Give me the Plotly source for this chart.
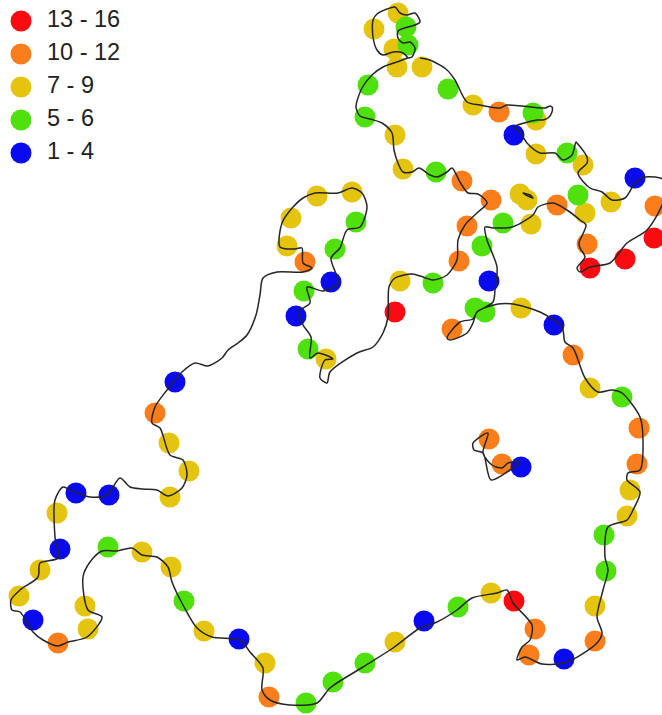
import plotly.graph_objects as go

coast_x = [408,403,393,383,377,373,373,377,387,395,400,407,415,420,415,398,398,403,410,415,412,408,397,383,372,362,356,360,370,382,392,394,398,403,412,419,430,437,447,452,460,468,478,487,477,465,458,457,447,433,423,412,395,389,388,383,373,357,330,327,320,325,333,318,310,311,303,298,310,307,323,338,331,340,347,360,367,362,352,338,315,303,293,282,280,295,302,303,312,303,277,263,260,256,247,238,228,222,208,195,182,167,155,152,160,170,183,187,182,168,157,143,130,120,107,90,72,63,55,55,58,40,38,20,11,12,20,33,43,58,68,87,102,88,83,90,102,117,132,142,157,168,172,183,197,212,240,250,263,262,270,290,317,330,363,393,420,437,457,472,497,507,513,532,530,522,517,525,542,567,597,602,597,603,608,605,608,627,633,640,627,628,640,643,640,622,612,598,585,573,565,562,540,513,498,477,473,467,450,447,460,473,477,493,495,497,487,485,493,512,533,538,553,567,580,586,579,580,585,577,580,590,610,627,647,664,664,645,635,625,612,602,590,578,587,587,577,576,572,563,555,540,527,520,514,537,543,548,552,552,550,545,507,500,480,467,455,447,430,420,408]
coast_y = [58,53,52,55,50,37,20,14,9,7,13,15,13,22,25,31,38,43,42,48,57,58,62,67,75,88,107,116,119,123,133,150,163,172,172,168,175,177,172,168,182,193,194,203,213,225,240,260,275,280,277,274,278,287,317,333,347,353,372,383,378,360,359,353,358,337,325,312,303,287,291,283,258,248,230,227,207,193,188,193,193,198,207,223,247,249,248,263,268,272,272,278,295,315,335,343,350,358,366,363,372,390,407,423,428,455,460,475,488,496,490,489,487,478,495,497,491,487,500,537,558,563,577,590,600,610,612,632,640,646,642,637,617,610,577,562,551,551,548,555,557,567,582,605,628,637,640,652,668,690,700,705,703,688,667,648,628,622,610,598,593,590,603,625,640,647,660,657,664,662,643,633,617,590,570,557,527,520,510,492,480,473,470,440,417,393,390,392,378,348,342,327,312,304,304,312,323,333,340,338,322,319,312,302,290,267,240,227,228,227,215,207,203,210,220,225,243,248,257,268,272,267,263,243,230,200,180,177,183,198,200,192,188,173,163,157,143,142,155,160,153,153,143,132,127,120,120,118,112,107,106,108,105,108,105,102,80,70,60,58]
island_x = [488,473,474,483,491,510,520,508,502,492,483,488]
island_y = [433,443,450,453,480,470,462,463,468,465,453,433]
loop_x = [523,530,533,528,523]
loop_y = [193,195,198,196,193]

class_names = ["13 - 16", "10 - 12", "7 - 9", "5 - 6", "1 - 4"]
class_colors = ["#fb0a10", "#fb7d1c", "#e5c410", "#50e00e", "#0a0af0"]

red_x = [395,514,590,625,654]
red_y = [312,601,268,259,238]
orange_x = [499,462,491,557,467,459,587,655,305,452,155,58,269,535,529,595,573,639,637,489,502]
orange_y = [112,181,200,205,226,261,244,206,262,329,413,643,697,629,655,641,355,428,464,439,464]
yellow_x = [398,374,394,397,422,395,403,473,536,536,583,611,585,520,527,531,317,352,291,287,400,326,169,189,170,57,40,19,85,88,142,171,204,265,395,491,595,521,590,630,627]
yellow_y = [13,29,49,67,67,135,169,105,120,154,165,202,213,194,200,224,196,192,218,246,281,359,443,471,497,513,570,596,606,629,552,567,631,663,642,593,606,308,388,490,516]
green_x = [406,408,368,365,448,533,567,578,436,503,482,356,335,304,308,433,108,184,306,333,365,458,606,475,485,622,604]
green_y = [27,45,85,117,89,113,153,195,172,223,246,222,249,291,349,283,547,601,703,682,663,607,571,308,312,397,535]
blue_x = [514,635,489,331,296,175,76,109,60,33,239,424,564,554,521]
blue_y = [135,178,281,282,316,382,493,495,549,620,639,621,659,325,467]

legend_x = [21,21,21,21,21]
legend_y = [21,54,87,120,153]
legend_text_x = [47,47,47,47,47]

fig = go.Figure()
groups = [
    (class_names[2], class_colors[2], yellow_x, yellow_y),
    (class_names[3], class_colors[3], green_x, green_y),
    (class_names[1], class_colors[1], orange_x, orange_y),
    (class_names[4], class_colors[4], blue_x, blue_y),
    (class_names[0], class_colors[0], red_x, red_y),
]
for name, color, xs, ys in groups:
    fig.add_trace(go.Scatter(x=xs, y=ys, mode="markers", name=name,
                             marker=dict(size=21, color=color, line=dict(width=0))))
for xs, ys in [(coast_x, coast_y), (island_x, island_y), (loop_x, loop_y)]:
    fig.add_trace(go.Scatter(x=xs, y=ys, mode="lines", name="coast",
                             line=dict(color="#262626", width=1.5, shape="spline", smoothing=0.8)))
fig.add_trace(go.Scatter(x=legend_x, y=legend_y, mode="markers",
                         marker=dict(size=21, color=class_colors, line=dict(width=0))))
fig.add_trace(go.Scatter(x=legend_text_x, y=legend_y, mode="text", text=class_names,
                         textposition="middle right",
                         textfont=dict(family="Liberation Sans", size=23.5, color="#222222")))

fig.update_layout(
    width=662, height=715, showlegend=False,
    margin=dict(l=0, r=0, t=0, b=0),
    paper_bgcolor="white", plot_bgcolor="white",
    xaxis=dict(range=[0, 662], visible=False),
    yaxis=dict(range=[715, 0], visible=False),
)
fig.write_html("out.html", config=dict(displayModeBar=False),
               post_script="document.body.style.margin='0';document.body.style.overflow='hidden';")
